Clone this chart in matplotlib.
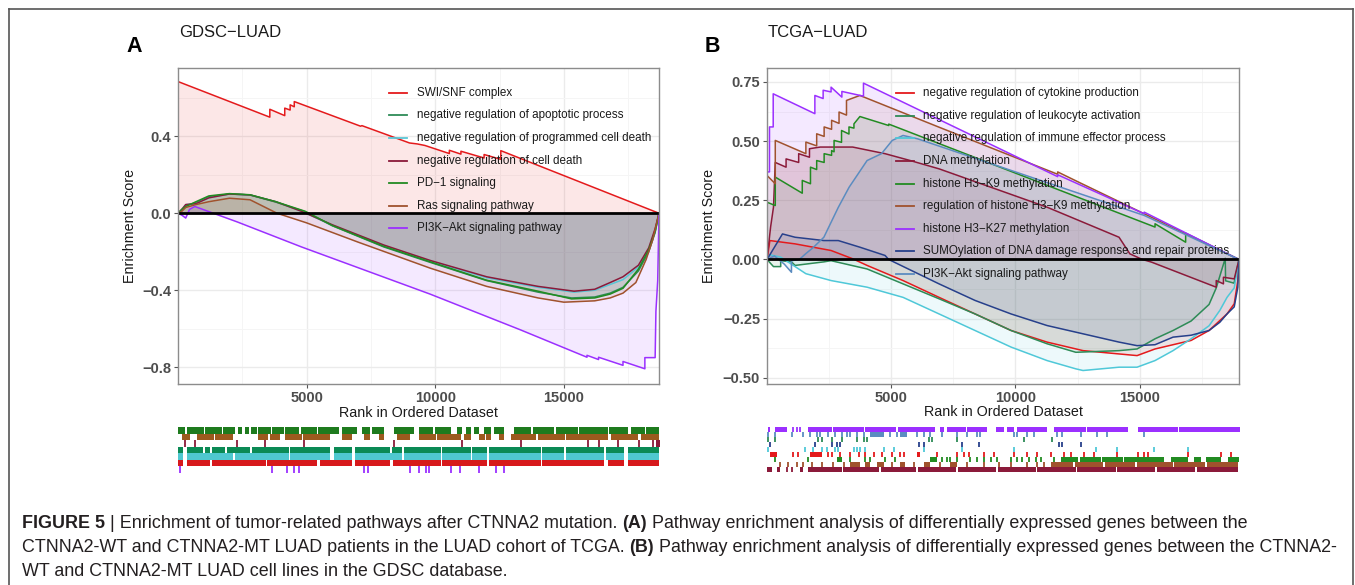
import matplotlib
matplotlib.use('Agg')
import matplotlib.pyplot as plt
from matplotlib.lines import Line2D

plt.rcParams['font.family'] = ['Liberation Sans', 'DejaVu Sans']

# ---------------- panel A : GDSC-LUAD ----------------
A_N = 18700
A_LABELS = ['SWI/SNF complex', 'negative regulation of apoptotic process',
            'negative regulation of programmed cell death', 'negative regulation of cell death',
            'PD\u22121 signaling', 'Ras signaling pathway', 'PI3K\u2212Akt signaling pathway']
A_COLORS = ['#E41A1C', '#2E8B57', '#5BC6D6', '#8B1A3A', '#228B22', '#A0522D', '#9B30FF']

# running enrichment score, (rank, ES)
A_SWISNF = [(0, 0), (0, 0.684), (3570, 0.499), (3570, 0.540), (4150, 0.507), (4150, 0.546),
            (4360, 0.536), (4360, 0.563), (4520, 0.553), (4520, 0.580), (7100, 0.452), (7150, 0.455),
            (9000, 0.365), (9300, 0.360), (9600, 0.352), (10550, 0.31), (10550, 0.327), (11000, 0.307),
            (11000, 0.322), (11900, 0.287), (11900, 0.305), (12550, 0.280), (12550, 0.325), (18700, 0.0)]
A_APOP = [(0, 0), (150, 0.015), (300, 0.04), (700, 0.055), (1200, 0.085), (2000, 0.1), (2800, 0.095),
          (3800, 0.058), (4900, 0.01), (6000, -0.065), (8000, -0.175), (9800, -0.255), (12000, -0.35),
          (14000, -0.41), (15300, -0.44), (16200, -0.435), (16800, -0.415), (17300, -0.385),
          (17900, -0.30), (18300, -0.20), (18550, -0.10), (18700, 0)]
A_PROG = [(0, 0), (150, 0.02), (300, 0.045), (700, 0.05), (1200, 0.08), (2000, 0.1), (2800, 0.095),
          (3800, 0.06), (4800, 0.01), (6000, -0.062), (8000, -0.168), (9800, -0.248), (12000, -0.335),
          (14000, -0.385), (15400, -0.41), (16200, -0.40), (16800, -0.37), (17300, -0.345),
          (17900, -0.28), (18300, -0.19), (18550, -0.09), (18700, 0)]
A_CELLDEATH = [(0, 0), (150, 0.02), (300, 0.045), (700, 0.05), (1200, 0.08), (2000, 0.1), (2800, 0.095),
               (3800, 0.06), (4800, 0.01), (6000, -0.06), (8000, -0.165), (9800, -0.245), (12000, -0.33),
               (14000, -0.38), (15400, -0.405), (16200, -0.395), (16800, -0.36), (17300, -0.33),
               (17900, -0.27), (18300, -0.18), (18550, -0.08), (18700, 0)]
A_PD1 = [(0, 0), (150, 0.02), (300, 0.035), (700, 0.06), (1200, 0.09), (2000, 0.102), (2800, 0.096),
         (3800, 0.06), (4950, 0.01), (6000, -0.064), (8000, -0.172), (9800, -0.252), (12000, -0.348),
         (14000, -0.405), (15300, -0.445), (16200, -0.44), (16800, -0.42), (17300, -0.39),
         (17900, -0.29), (18300, -0.19), (18550, -0.095), (18700, 0)]
A_RAS = [(0, 0), (150, 0.01), (300, 0.03), (700, 0.045), (1200, 0.06), (2000, 0.078), (2800, 0.07),
         (3850, 0.0), (5000, -0.05), (7000, -0.15), (9800, -0.285), (12000, -0.38), (14000, -0.44),
         (15000, -0.462), (16200, -0.455), (16800, -0.44), (17300, -0.415), (17800, -0.36),
         (18200, -0.24), (18450, -0.14), (18700, 0)]
A_PI3K = [(0, 0), (150, -0.01), (300, -0.025), (450, 0.02), (654, 0.035), (2300, -0.045),
          (4800, -0.175), (9800, -0.42), (13300, -0.605), (15900, -0.748), (15900, -0.738),
          (16350, -0.76), (16350, -0.748), (17300, -0.79), (17300, -0.77), (18150, -0.808),
          (18150, -0.75), (18550, -0.75), (18580, -0.51), (18650, -0.35), (18700, 0)]

# hit positions; tuples are dense runs (start, end)
RUG_A_PD1 = [(13, 272), (337, 1000), (1040, 1700), (1750, 2216), (2346, 2475), (2605, 2750), (2820, 3059),
             (3123, 3600), (3650, 4095), (4160, 4700), (4760, 5400), (5450, 6234), (6363, 6947),
             (7141, 7465), (7530, 7983), (8372, 9150), (9344, 9900), (9960, 10575), (10835, 11029),
             (11159, 11353), (11483, 11677), (11871, 12131), (12260, 12649), (13038, 13700),
             (13760, 14600), (14650, 15500), (15560, 16667), (16732, 17445), (17574, 18100), (18150, 18676)]
RUG_A_RAS = [(143, 467), (726, 1400), (1450, 2151), (3123, 3500), (3560, 3966), (4160, 4800), (4850, 5910),
             (6363, 6752), (7206, 7465), (7789, 7983), (8502, 9020), (9344, 10000), (10060, 10964),
             (11094, 11353), (11677, 11900), (11960, 12131), (12454, 12649), (12908, 13900),
             (13950, 15000), (15050, 16667), (16797, 17833), (17963, 18676)]
RUG_A_CELLDEATH = [272, 661, 2281, 3383, 4873, 8372, 11029, 13297, 15889, 16343, 17056, 17898, 18416,
                   (18560, 18700)]
RUG_A_APOP = [(13, 207), (337, 985), (1050, 1244), (1309, 1827), (1892, 2799), (2864, 4300), (4360, 5910),
              (6039, 6752), (6882, 8243), (8307, 8696), (8761, 10186), (10251, 11353), (11418, 12001),
              (12066, 14075), (14140, 14982), (15047, 16537), (16602, 17315), (17445, 18676)]
RUG_A_PROG = [(13, 207), (337, 2151), (2216, 4300), (4360, 5910), (6039, 6752), (6882, 8696),
              (8761, 10186), (10251, 11353), (11418, 12001), (12066, 14075), (14140, 14982),
              (15047, 16537), (16602, 17315), (17445, 18676)]
RUG_A_SWISNF = [(13, 207), (337, 1244), (1309, 3400), (3460, 5391), (5521, 6752), (6882, 8243),
                (8346, 10186), (10251, 12001), (12066, 14075), (14140, 16537), (16667, 17315), (17445, 18676)]
RUG_A_PI3K = [78, 3642, 4225, 4484, 4679, 7206, 7361, 9020, 9344, 9603, 9733, 10575, 10938, 11677,
              12325, 12649]

# ---------------- panel B : TCGA-LUAD ----------------
B_N = 19000
B_LABELS = ['negative regulation of cytokine production', 'negative regulation of leukocyte activation',
            'negative regulation of immune effector process', 'DNA methylation',
            'histone H3\u2212K9 methylation', 'regulation of histone H3\u2212K9 methylation',
            'histone H3\u2212K27 methylation', 'SUMOylation of DNA damage response and repair proteins',
            'PI3K\u2212Akt signaling pathway']
B_COLORS = ['#E41A1C', '#2E8B57', '#4FC8D8', '#8B1A3A', '#228B22', '#A0522D', '#9B30FF', '#27408B', '#5B8CC0']

B_CYTOKINE = [(0, 0), (116, 0.08), (1130, 0.066), (2579, 0.038), (3449, 0.003), (4028, -0.025),
              (5477, -0.089), (6926, -0.16), (8375, -0.23), (9824, -0.30), (11273, -0.349),
              (12722, -0.385), (14171, -0.399), (14896, -0.406), (15620, -0.378), (17070, -0.342),
              (17794, -0.30), (18518, -0.23), (18808, -0.187), (18953, -0.089), (19000, 0)]
B_LEUKO = [(0, 0), (261, -0.03), (551, -0.03), (551, -0.005), (985, -0.01), (1130, -0.025), (2289, -0.01),
           (2579, -0.005), (4028, -0.04), (5477, -0.103), (6926, -0.166), (8375, -0.23), (9824, -0.30),
           (11273, -0.356), (12432, -0.392), (14171, -0.385), (14896, -0.378), (15620, -0.335),
           (16345, -0.30), (17070, -0.26), (17794, -0.19), (18084, -0.12), (18446, 0.005),
           (18460, -0.09), (18800, -0.10), (19000, 0)]
B_IMMUNE = [(0, 0), (116, 0.02), (551, 0.01), (1130, -0.03), (1565, -0.06), (2579, -0.089),
            (4028, -0.117), (5477, -0.16), (6926, -0.23), (8375, -0.30), (9824, -0.37), (11273, -0.427),
            (12432, -0.462), (12722, -0.469), (14171, -0.455), (14896, -0.455), (15620, -0.427),
            (16345, -0.385), (17070, -0.335), (17794, -0.28), (18229, -0.215), (18518, -0.16),
            (18808, -0.12), (19000, 0)]
B_DNAMETH = [(0, 0), (145, 0.137), (261, 0.221), (333, 0.41), (768, 0.39), (768, 0.425), (1275, 0.41),
             (1275, 0.447), (1710, 0.432), (1710, 0.468), (2145, 0.475), (3449, 0.475), (4753, 0.447),
             (5767, 0.418), (6926, 0.383), (11273, 0.221), (14171, 0.094), (14606, 0.024), (15113, 0.0),
             (15475, -0.011), (18083, -0.117), (18083, -0.089), (18374, -0.103), (18374, -0.075),
             (18808, -0.082), (19000, 0)]
B_H3K9 = [(0, 0), (0, 0.242), (333, 0.228), (333, 0.348), (1420, 0.28), (1420, 0.334), (1750, 0.32),
          (1750, 0.39), (2000, 0.38), (2000, 0.418), (2300, 0.41), (2300, 0.447), (2600, 0.44),
          (2600, 0.46), (2700, 0.455), (2700, 0.503), (3000, 0.495), (3000, 0.545), (3300, 0.53),
          (3300, 0.56), (3500, 0.555), (3500, 0.573), (3740, 0.604), (4900, 0.566), (4900, 0.572),
          (15620, 0.137), (15620, 0.151), (16852, 0.073), (16852, 0.111), (19000, 0)]
B_REGH3K9 = [(0, 0), (0, 0.355), (333, 0.32), (333, 0.503), (1565, 0.447), (1565, 0.496), (2000, 0.48),
             (2000, 0.531), (2300, 0.52), (2300, 0.56), (2600, 0.55), (2600, 0.588), (2900, 0.575),
             (2900, 0.623), (3200, 0.61), (3200, 0.672), (3740, 0.693), (6900, 0.56), (11700, 0.36),
             (11700, 0.37), (12580, 0.325), (19000, 0)]
B_H3K27 = [(0, 0), (0, 0.37), (100, 0.37), (100, 0.56), (250, 0.56), (250, 0.70), (1927, 0.616),
           (1927, 0.693), (2260, 0.68), (2260, 0.715), (2579, 0.708), (2579, 0.728), (3014, 0.686),
           (3014, 0.71), (3883, 0.69), (3883, 0.745), (11700, 0.35), (11700, 0.358), (15185, 0.193),
           (15185, 0.2), (19000, 0)]
B_SUMO = [(0, 0), (623, 0.108), (1130, 0.094), (2289, 0.08), (2869, 0.08), (3738, 0.052), (4753, 0.017),
          (4898, 0.0), (6926, -0.103), (8375, -0.173), (9824, -0.23), (11273, -0.279), (12722, -0.314),
          (14171, -0.349), (14896, -0.364), (15620, -0.36), (16345, -0.328), (17070, -0.32),
          (17794, -0.30), (18229, -0.265), (18518, -0.23), (18808, -0.20), (18953, -0.117), (19000, 0)]
B_PI3K = [(0, 0), (300, 0.015), (700, -0.02), (985, -0.054), (985, -0.005), (1300, 0.0), (1565, 0.025),
          (1855, 0.05), (2289, 0.094), (2869, 0.22), (3304, 0.305), (4028, 0.418), (4608, 0.447),
          (5042, 0.503), (5477, 0.524), (6057, 0.51), (15185, 0.186), (19000, 0)]

RUG_B_H3K27 = [(54, 121), (323, 792), 1061, 1195, 1329, (1665, 2600), (2650, 3900), (3950, 5200),
               (5250, 6764), (6965, 7100), (7234, 8000), (8050, 8844), (9180, 9515), (9649, 9918),
               (10052, 11260), (11528, 12800), (12850, 14481), (14883, 16500), (16550, 19000)]
RUG_B_PI3K = [54, 323, 994, 1463, 1732, 2000, 2134, 2470, 2738, 3007, 3208, 3342, 3610, 3879, (4147, 4684),
              4952, 5221, (5355, 5623), 6026, 6294, 6563, 7033, 7636, 8039, 8442, 8576, 9918, 10052, 10455,
              10723, 11662, 11864, 12602, 13273, 13675, 15152]
RUG_B_LEUKO = [54, 323, 2067, 2201, 2604, 3007, 3610, 3879, 4013, 6496, 6630, 7636, 10320, 11461]
RUG_B_SUMO = [121, 1933, 2604, 2805, 2939, 6093, 6294, 7838, 8509, 11729, 11864, 12602]
RUG_B_IMMUNE = [54, 1530, 1866, 2201, 2403, 2738, 2872, 3476, 3610, 3744, 3946, 4684, 5087, 6294, 7838,
                9918, 13206, 14078, 15554, 16896]
RUG_B_CYTOKINE = [(121, 390), 1061, 1262, (1732, 2201), 2470, 2604, 2939, 3342, 3678, 3946, 4281, 4617,
                  5020, 5355, 5489, (6026, 6160), 6831, 7636, 7905, 8106, 8710, 9113, 9918, 10455, 10857,
                  11394, 11931, 12199, 12736, 13139, 14078, 14883, 15152, 15286, 16896, 18238, 18641]
RUG_B_H3K9 = [323, 1665, (2805, 3007), 3342, 3946, 4147, 4751, 5154, (6563, 6831), 7033, 7234, 7368, 7636,
              8173, 8442, 8710, 8978, 9247, 9784, 10052, 10253, 10522, 10790, 10991, 11528, (11797, 12500),
              (12560, 13400), (13460, 14300), (14360, 15957), (16225, 16896), (17164, 17433),
              (17634, 18238), (18507, 18977)]
RUG_B_REGH3K9 = [524, 859, 1195, 1463, 1799, 2201, 2671, 3074, (3342, 3744), (3946, 4147), (4416, 4684),
                 5020, (5355, 5556), 5892, (6294, 6563), 6965, (7368, 7636), 8039, 8710, 9314, 9784, 10455,
                 10857, 11126, (11394, 12300), (12360, 13500), (13560, 14800), (14860, 16300),
                 (16360, 17600), (17660, 18909)]
RUG_B_DNAMETH = [(0, 188), (390, 524), 792, 994, (1329, 1463), (1665, 3000), (3060, 4500), (4560, 6000),
                 (6060, 7600), (7660, 9200), (9260, 10800), (10860, 12400), (12460, 14000), (14060, 15600),
                 (15660, 17200), (17260, 18909)]

CAPTION = [
    [('FIGURE 5', 'bold'), ('| Enrichment of tumor-related pathways after CTNNA2 mutation.', 'normal'),
     ('(A)', 'bold'), ('Pathway enrichment analysis of differentially expressed genes between the', 'normal')],
    [('CTNNA2-WT and CTNNA2-MT LUAD patients in the LUAD cohort of TCGA.', 'normal'), ('(B)', 'bold'),
     ('Pathway enrichment analysis of differentially expressed genes between the CTNNA2-', 'normal')],
    [('WT and CTNNA2-MT LUAD cell lines in the GDSC database.', 'normal')],
]

W, H = 1355, 585
fig = plt.figure(figsize=(W / 100, H / 100), dpi=100)


def fx(px):
    return px / W


def fy(py):
    return 1 - py / H


def draw_curves(ax, curves, colors, n):
    for pts, col in zip(curves, colors):
        xs = [p[0] for p in pts]
        ys = [p[1] for p in pts]
        ax.fill_between(xs, ys, 0, color=col, alpha=0.1, linewidth=0)
        ax.plot(xs, ys, color=col, linewidth=1.1)
    ax.plot([0, n], [0, 0], color='black', linewidth=2)


def style_axes(ax, n, ylim, yticks, yminor, ylab_x):
    ax.set_xlim(0, n)
    ax.set_ylim(*ylim)
    ax.set_xticks([5000, 10000, 15000])
    ax.set_xticks([2500, 7500, 12500, 17500], minor=True)
    ax.set_yticks(yticks)
    ax.set_yticks(yminor, minor=True)
    ax.grid(True, which='major', color='#EBEBEB', linewidth=1.0)
    ax.grid(True, which='minor', color='#F5F5F5', linewidth=0.7)
    ax.set_axisbelow(True)
    for s in ax.spines.values():
        s.set_color('#8C8C8C')
        s.set_linewidth(1.0)
    ax.tick_params(which='major', length=3, width=0.8, color='#555555', labelsize=10.5,
                   labelcolor='#4D4D4D', pad=2)
    ax.tick_params(which='minor', length=0)
    for lab in ax.get_xticklabels() + ax.get_yticklabels():
        lab.set_fontweight('bold')
    ax.set_xlabel('Rank in Ordered Dataset', fontsize=10.3, color='#1A1A1A')
    ax.set_ylabel('Enrichment Score', fontsize=10.3, color='#1A1A1A')
    ax.xaxis.set_label_coords(0.5, -0.068)
    ax.yaxis.set_label_coords(ylab_x, 0.5)


def draw_legend(ax, labels, colors, hx0, hx1, tx):
    y0, dy = 0.920, 0.0714
    for i, (lab, col) in enumerate(zip(labels, colors)):
        y = y0 - i * dy
        ax.plot([hx0, hx1], [y, y], transform=ax.transAxes, color=col, linewidth=1.3, clip_on=False)
        ax.text(tx, y, lab, transform=ax.transAxes, va='center', ha='left', fontsize=8.4, color='#1A1A1A')


def draw_rug(ax, rows, colors, n):
    k = len(rows)
    for i, (hits, col) in enumerate(zip(rows, colors)):
        y0 = k - 1 - i
        blocks = [(h[0], h[1] - h[0]) for h in hits if isinstance(h, tuple)]
        ticks = [h for h in hits if not isinstance(h, tuple)]
        if blocks:
            ax.broken_barh(blocks, (y0, 1), facecolors=col, linewidth=0)
        if ticks:
            ax.vlines(ticks, y0, y0 + 1, colors=col, linewidth=1.3)
    ax.set_xlim(0, n)
    ax.set_ylim(0, k)
    ax.axis('off')


# panel A
axA = fig.add_axes([fx(178), fy(384), fx(659 - 178), (384 - 67.5) / H])
draw_curves(axA, [A_SWISNF, A_APOP, A_PROG, A_CELLDEATH, A_PD1, A_RAS, A_PI3K], A_COLORS, A_N)
style_axes(axA, A_N, (-0.887, 0.757), [-0.8, -0.4, 0.0, 0.4], [-0.6, -0.2, 0.2, 0.6], -0.085)
draw_legend(axA, A_LABELS, A_COLORS, 0.4387, 0.476, 0.4962)

rugA = fig.add_axes([fx(178), fy(473), fx(660 - 178), 46 / H])
draw_rug(rugA, [RUG_A_PD1, RUG_A_RAS, RUG_A_CELLDEATH, RUG_A_APOP, RUG_A_PROG, RUG_A_SWISNF, RUG_A_PI3K],
         ['#1E7B1E', '#9C5A1E', '#8B1A3A', '#0B8A55', '#4FC8D0', '#D7191C', '#9B30FF'], A_N)

# panel B
axB = fig.add_axes([fx(767), fy(384), fx(1239 - 767), (384 - 68) / H])
draw_curves(axB, [B_CYTOKINE, B_LEUKO, B_IMMUNE, B_DNAMETH, B_H3K9, B_REGH3K9, B_H3K27, B_SUMO, B_PI3K],
            B_COLORS, B_N)
style_axes(axB, B_N, (-0.526, 0.809), [-0.5, -0.25, 0.0, 0.25, 0.5, 0.75],
           [-0.375, -0.125, 0.125, 0.375, 0.625], -0.108)
draw_legend(axB, B_LABELS, B_COLORS, 0.273, 0.311, 0.3305)

rugB = fig.add_axes([fx(767), fy(472), fx(1240 - 767), 45 / H])
draw_rug(rugB, [RUG_B_H3K27, RUG_B_PI3K, RUG_B_LEUKO, RUG_B_SUMO, RUG_B_IMMUNE, RUG_B_CYTOKINE,
                RUG_B_H3K9, RUG_B_REGH3K9, RUG_B_DNAMETH],
         ['#9B30FF', '#5B8CC0', '#2E8B57', '#27408B', '#4FC8D8', '#E41A1C', '#228B22', '#A0522D', '#8B1A3A'],
         B_N)

# titles and panel letters
fig.text(fx(179), fy(32.5), 'GDSC\u2212LUAD', fontsize=12, va='center', ha='left', color='#1A1A1A')
fig.text(fx(768), fy(32.5), 'TCGA\u2212LUAD', fontsize=12, va='center', ha='left', color='#1A1A1A')
fig.text(fx(126), fy(46), 'A', fontsize=15.5, fontweight='bold', va='center', ha='left', color='black')
fig.text(fx(705), fy(46), 'B', fontsize=15.5, fontweight='bold', va='center', ha='left', color='black')

# outer frame (open at the bottom)
for xs, ys in [([9, 9], [9, H]), ([1353, 1353], [9, H]), ([9, 1353], [9, 9])]:
    fig.add_artist(Line2D([fx(v) for v in xs], [fy(v) for v in ys], color='#555555', linewidth=1.2))

# caption with bold pieces
CAP_FS = 12.9
renderer = fig.canvas.get_renderer()


def text_w(s, weight):
    t = fig.text(0, 0, s, fontsize=CAP_FS, fontweight=weight)
    w = t.get_window_extent(renderer).width
    t.remove()
    return w


space_w = text_w('a a', 'normal') - text_w('aa', 'normal')
for li, line in enumerate(CAPTION):
    x = 22
    y = fy(528 + li * 24)
    for s, weight in line:
        fig.text(fx(x), y, s, fontsize=CAP_FS, fontweight=weight, va='baseline', ha='left', color='#231F20')
        x += text_w(s, weight) + space_w

fig.savefig('out.png', dpi=100)
